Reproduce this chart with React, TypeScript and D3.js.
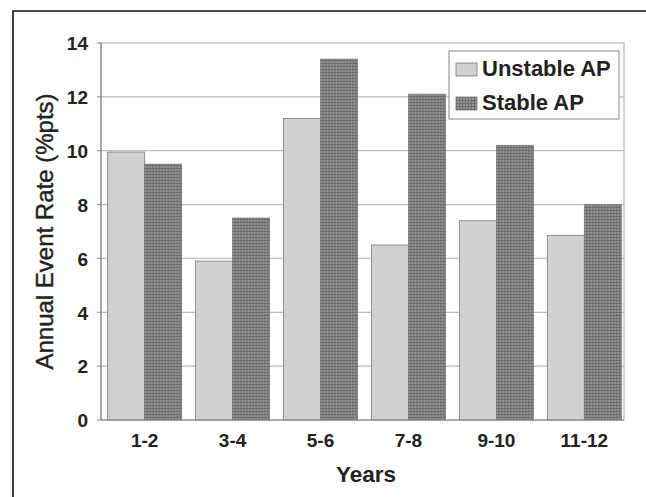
import * as d3 from 'd3';

const WIDTH = 646;
const HEIGHT = 497;
const PLOT = { left: 101, right: 624, top: 43, bottom: 420 };

const categories = ['1-2', '3-4', '5-6', '7-8', '9-10', '11-12'];
const seriesNames = ['Unstable AP', 'Stable AP'];
const unstableValues = [9.95, 5.9, 11.2, 6.5, 7.4, 6.85];
const stableValues = [9.5, 7.5, 13.4, 12.1, 10.2, 8.0];
const yTicks = [0, 2, 4, 6, 8, 10, 12, 14];

const FONT = 'Liberation Sans, Arial, sans-serif';
const INK = '#222';

const fills = ['url(#dots)', 'url(#grid)'];

export default function App() {
  const x0 = d3
    .scaleBand<string>()
    .domain(categories)
    .range([105, PLOT.right])
    .paddingInner(0.158)
    .paddingOuter(0.03);
  const x1 = d3.scaleBand<string>().domain(seriesNames).range([0, x0.bandwidth()]);
  const y = d3.scaleLinear().domain([0, 14]).range([PLOT.bottom, PLOT.top]);

  const series = [unstableValues, stableValues];

  return (
    <svg
      width={WIDTH}
      height={HEIGHT}
      style={{ position: 'absolute', left: 0, top: 0, background: '#fff' }}
      fontFamily={FONT}
    >
      <defs>
        <pattern id="dots" width={4} height={4} patternUnits="userSpaceOnUse">
          <rect width={4} height={4} fill="#d3d3d3" />
          <rect x={0} y={0} width={1} height={1} fill="#bdbdbd" />
          <rect x={2} y={2} width={1} height={1} fill="#c4c4c4" />
        </pattern>
        <pattern id="grid" width={3} height={3} patternUnits="userSpaceOnUse">
          <rect width={3} height={3} fill="#969696" />
          <rect x={0} y={0} width={3} height={1} fill="#6c6c6c" />
          <rect x={0} y={0} width={1} height={3} fill="#6c6c6c" />
        </pattern>
      </defs>

      {/* page frame */}
      <path d={`M13,${HEIGHT}V11H${WIDTH}`} fill="none" stroke="#111" strokeWidth={1.6} />

      {/* plot area */}
      <rect
        x={PLOT.left}
        y={PLOT.top}
        width={PLOT.right - PLOT.left}
        height={PLOT.bottom - PLOT.top}
        fill="#fff"
        stroke="#aaa"
        strokeWidth={1}
      />
      {yTicks.map((t) => (
        <g key={t}>
          {t > 0 && t < 14 && (
            <line x1={PLOT.left} x2={PLOT.right} y1={y(t)} y2={y(t)} stroke="#bdbdbd" strokeWidth={1.2} />
          )}
          <line x1={PLOT.left - 4} x2={PLOT.left} y1={y(t)} y2={y(t)} stroke="#888" strokeWidth={1} />
          <text
            x={88}
            y={y(t)}
            dy="0.38em"
            textAnchor="end"
            fontSize={19}
            fontWeight="bold"
            fill={INK}
          >
            {t}
          </text>
        </g>
      ))}

      {/* bars */}
      {categories.map((c, i) => (
        <g key={c} transform={`translate(${x0(c)},0)`}>
          {seriesNames.map((s, j) => (
            <rect
              key={s}
              x={x1(s)}
              y={y(series[j][i])}
              width={x1.bandwidth()}
              height={y(0) - y(series[j][i])}
              fill={fills[j]}
              stroke="#7a7a7a"
              strokeWidth={0.8}
            />
          ))}
          <text
            x={x0.bandwidth() / 2}
            y={447}
            textAnchor="middle"
            fontSize={19}
            fontWeight="bold"
            fill={INK}
          >
            {c}
          </text>
        </g>
      ))}

      {/* axes lines */}
      <line x1={PLOT.left} x2={PLOT.left} y1={PLOT.top} y2={PLOT.bottom} stroke="#888" strokeWidth={1.2} />
      <line x1={PLOT.left} x2={PLOT.right} y1={PLOT.bottom} y2={PLOT.bottom} stroke="#888" strokeWidth={1.2} />

      {/* legend */}
      <g>
        <rect x={449} y={51} width={170} height={68} fill="#fff" stroke="#888" strokeWidth={1} />
        {seriesNames.map((s, j) => (
          <g key={s} transform={`translate(456,${63 + j * 34})`}>
            <rect width={21} height={13} fill={fills[j]} stroke="#7a7a7a" strokeWidth={0.8} />
            <text x={26} y={13} fontSize={22} fontWeight="bold" fill={INK}>
              {s}
            </text>
          </g>
        ))}
      </g>

      {/* titles */}
      <text x={366} y={482} textAnchor="middle" fontSize={22.5} fontWeight="bold" fill={INK}>
        Years
      </text>
      <text
        transform={`translate(53,${(PLOT.top + PLOT.bottom) / 2}) rotate(-90)`}
        textAnchor="middle"
        fontSize={24}
        fill={INK}
        stroke={INK}
        strokeWidth={0.4}
      >
        Annual Event Rate (%pts)
      </text>
    </svg>
  );
}
